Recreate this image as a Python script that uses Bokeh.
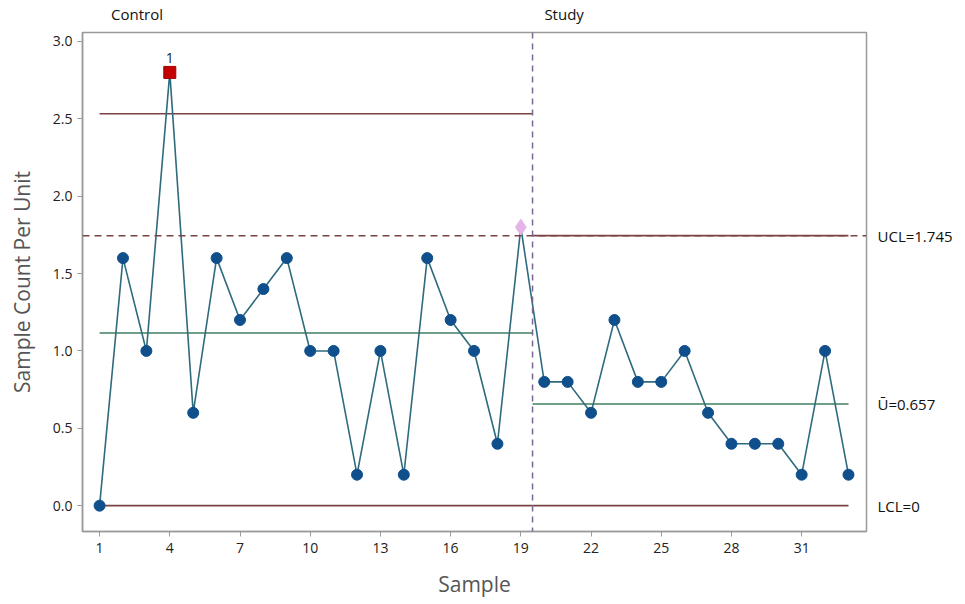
from bokeh.plotting import figure
from bokeh.models import Range1d, Span, Label, FixedTicker, ColumnDataSource, LinearAxis
from bokeh.embed import file_html
from bokeh.resources import INLINE

# ---- data ----
samples = list(range(1, 34))
values = [0.0, 1.6, 1.0, 2.8, 0.6, 1.6, 1.2, 1.4, 1.6, 1.0, 1.0, 0.2, 1.0, 0.2,
          1.6, 1.2, 1.0, 0.4, 1.8,
          0.8, 0.8, 0.6, 1.2, 0.8, 0.8, 1.0, 0.6, 0.4, 0.4, 0.4, 0.2, 1.0, 0.2]
stage_names = ["Control", "Study"]
stage_start = [1, 19.5]
stage_end = [19.5, 33]
stage_label_pos = [2.6, 20.85]
stage_ucl = [2.533, 1.745]
stage_cl = [1.116, 0.657]
stage_lcl = [0.0, 0.0]
stage_split = 19.5
flag_sample = [4]
flag_value = [2.8]
flag_text = ["1"]
warn_sample = [19]
warn_value = [1.8]
x_ticks = [1, 4, 7, 10, 13, 16, 19, 22, 25, 28, 31]
y_ticks = [0.0, 0.5, 1.0, 1.5, 2.0, 2.5, 3.0]
limit_labels = ["UCL=1.745", "\u016a=0.657", "LCL=0"]
limit_values = [1.745, 0.657, 0.0]

FONT = "Open Sans"
BROWN = "#7b4444"
GREEN = "#3f7f62"
LINE = "#2f6b7d"
DOT = "#0f4f8c"
FRAME = "#9a9a9a"

p = figure(width=960, height=600, output_backend="svg", toolbar_location=None,
           x_range=Range1d(0.27, 33.77), y_range=Range1d(-0.167, 3.058),
           min_border_left=82, min_border_right=94, min_border_top=32, min_border_bottom=67)
p.background_fill_color = "white"
p.border_fill_color = "white"
p.outline_line_color = FRAME
p.outline_line_width = 1.5
p.grid.visible = False

for ax in (p.xaxis[0], p.yaxis[0]):
    ax.axis_line_color = FRAME
    ax.axis_line_width = 1.5
    ax.major_tick_line_color = FRAME
    ax.major_tick_out = 5
    ax.major_tick_in = 0
    ax.minor_tick_line_color = None
    ax.major_label_text_font = FONT
    ax.major_label_text_font_size = "14px"
    ax.major_label_text_color = "#222222"
    ax.axis_label_text_font = FONT
    ax.axis_label_text_font_size = "21px"
    ax.axis_label_text_font_style = "normal"
    ax.axis_label_text_color = "#555555"

p.xaxis.ticker = FixedTicker(ticks=x_ticks)
p.yaxis.ticker = FixedTicker(ticks=y_ticks)
p.yaxis.major_label_overrides = {v: f"{v:.1f}" for v in y_ticks}
p.xaxis.axis_label = "Sample"
p.yaxis.axis_label = "Sample Count Per Unit"
p.xaxis.axis_label_standoff = 14
p.yaxis.axis_label_standoff = 14
p.xaxis.major_label_standoff = 6

# right-side limit labels
right_ax = LinearAxis(ticker=FixedTicker(ticks=limit_values),
                      major_label_overrides={v: t for v, t in zip(limit_values, limit_labels)})
right_ax.axis_line_color = None
right_ax.major_tick_line_color = None
right_ax.minor_tick_line_color = None
right_ax.major_label_standoff = 5
right_ax.major_label_text_font = FONT
right_ax.major_label_text_font_size = "15px"
right_ax.major_label_text_color = "#111111"
p.add_layout(right_ax, "right")

# stage names above the frame
top_ax = LinearAxis(ticker=FixedTicker(ticks=stage_label_pos),
                    major_label_overrides={v: t for v, t in zip(stage_label_pos, stage_names)})
top_ax.axis_line_color = None
top_ax.major_tick_line_color = None
top_ax.minor_tick_line_color = None
top_ax.major_label_standoff = 3
top_ax.major_label_text_font = FONT
top_ax.major_label_text_font_size = "15px"
top_ax.major_label_text_color = "#111111"
p.add_layout(top_ax, "above")

# full-width dashed UCL and stage split
p.add_layout(Span(location=stage_ucl[1], dimension="width", line_color=BROWN,
                  line_dash="7 5", line_width=1.5))
p.add_layout(Span(location=stage_split, dimension="height", line_color="#7a6690",
                  line_dash="6 5", line_width=1.5))

stages = ColumnDataSource(dict(x0=stage_start, x1=stage_end, ucl=stage_ucl,
                               cl=stage_cl, lcl=stage_lcl))
p.segment(x0="x0", x1="x1", y0="ucl", y1="ucl", source=stages, line_color=BROWN, line_width=1.6)
p.segment(x0="x0", x1="x1", y0="lcl", y1="lcl", source=stages, line_color=BROWN, line_width=1.6)
p.segment(x0="x0", x1="x1", y0="cl", y1="cl", source=stages, line_color=GREEN, line_width=1.6)

p.line(samples, values, line_color=LINE, line_width=1.6)
normal_x = [s for s, v in zip(samples, values) if s not in flag_sample and s not in warn_sample]
normal_y = [v for s, v in zip(samples, values) if s not in flag_sample and s not in warn_sample]
p.scatter(normal_x, normal_y, marker="circle", size=11, fill_color=DOT, line_color=DOT)
p.scatter(flag_sample, flag_value, marker="square", size=12, fill_color="#c40000", line_color="#a00000")
p.scatter(warn_sample, warn_value, marker="diamond", size=16, fill_color="#e4b4e8", line_color="#e4b4e8")

for xs, ys, t in zip(flag_sample, flag_value, flag_text):
    p.add_layout(Label(x=xs, y=ys, text=t, y_offset=9, text_align="center",
                       text_baseline="bottom", text_font=FONT, text_font_size="14px",
                       text_color="#222222"))

open("out.html", "w").write(file_html(p, INLINE))
